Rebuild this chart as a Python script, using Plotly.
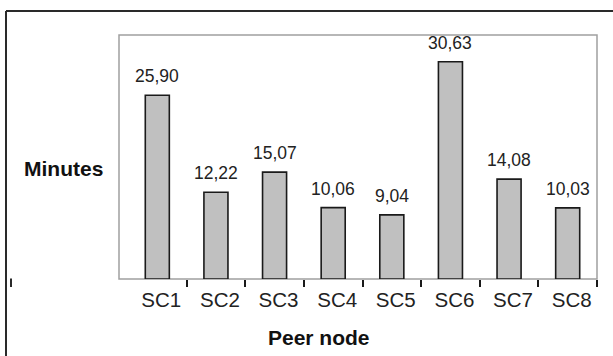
import plotly.graph_objects as go

# Average session time per peer node
categories = ["SC1", "SC2", "SC3", "SC4", "SC5", "SC6", "SC7", "SC8"]
minutes = [25.90, 12.22, 15.07, 10.06, 9.04, 30.63, 14.08, 10.03]
x_title = "Peer node"
y_title = "Minutes"

W, H = 613, 356
M_L, M_R, M_T, M_B = 128, 16, 35, 77
PW = W - M_L - M_R
PH = H - M_T - M_B
FONT = "Liberation Sans, Arial, sans-serif"


def px_x(px):
    """Pixel column -> paper x fraction."""
    return (px - M_L) / PW


def px_y(py):
    """Pixel row -> paper y fraction."""
    return (H - M_B - py) / PH


idx = list(range(len(categories)))
bounds = [i + 0.5 for i in idx]


def fmt(v):
    return f"{v:.2f}".replace(".", ",")


fig = go.Figure()
fig.add_trace(go.Bar(
    x=idx, y=minutes, width=0.41,
    marker=dict(color="#c0c0c0", line=dict(color="#1a1a1a", width=1.6)),
    hoverinfo="skip", showlegend=False,
))
# invisible carrier for the boundary-tick axis
fig.add_trace(go.Scatter(
    x=bounds, y=[0] * len(bounds), xaxis="x2", mode="markers",
    marker=dict(opacity=0), hoverinfo="skip", showlegend=False,
))

annotations = [
    dict(x=i, y=v, xref="x", yref="y", text=fmt(v), showarrow=False,
         xanchor="center", yanchor="bottom", yshift=7,
         font=dict(family=FONT, size=17.5, color="#222222"))
    for i, v in zip(idx, minutes)
]
annotations.append(dict(
    x=px_x(63), y=px_y(168), xref="paper", yref="paper", text=f"<b>{y_title}</b>",
    showarrow=False, xanchor="center", yanchor="middle",
    font=dict(family=FONT, size=21, color="#111111")))
annotations.append(dict(
    x=px_x(319), y=px_y(337), xref="paper", yref="paper", text=f"<b>{x_title}</b>",
    showarrow=False, xanchor="center", yanchor="middle",
    font=dict(family=FONT, size=21, color="#111111")))

frame = "#2a2a2a"
shapes = [
    # plot area border
    dict(type="rect", xref="paper", yref="paper", x0=px_x(119), x1=1, y0=0, y1=1,
         line=dict(color="#a0a0a0", width=1.5), layer="below"),
    # outer chart frame (top and left edges)
    dict(type="line", xref="paper", yref="paper", x0=px_x(6), x1=px_x(W + 5),
         y0=px_y(11), y1=px_y(11), line=dict(color=frame, width=2)),
    dict(type="line", xref="paper", yref="paper", x0=px_x(6), x1=px_x(6),
         y0=px_y(11), y1=px_y(H + 5), line=dict(color=frame, width=2)),
    # stray tick on the left
    dict(type="line", xref="paper", yref="paper", x0=px_x(11), x1=px_x(11),
         y0=px_y(278.5), y1=px_y(287), line=dict(color=frame, width=2)),
]

xr = [-0.5, len(categories) - 0.5]
fig.update_layout(
    width=W, height=H,
    margin=dict(l=M_L, r=M_R, t=M_T, b=M_B, pad=0),
    paper_bgcolor="white", plot_bgcolor="white",
    xaxis=dict(range=xr, tickvals=idx, ticktext=categories, ticks="",
               showline=False, showgrid=False, zeroline=False, fixedrange=True,
               ticklabelshift=4, ticklabelstandoff=6,
               tickfont=dict(family=FONT, size=20.5, color="#222222")),
    xaxis2=dict(range=xr, overlaying="x", anchor="y", side="bottom",
                tickvals=bounds, showticklabels=False, ticks="outside",
                ticklen=7, tickwidth=1.5, tickcolor="#1a1a1a",
                showline=False, showgrid=False, zeroline=False, fixedrange=True),
    yaxis=dict(range=[0, 34.4], visible=False, fixedrange=True),
    annotations=annotations, shapes=shapes, showlegend=False,
)

fig.write_html("out.html")
